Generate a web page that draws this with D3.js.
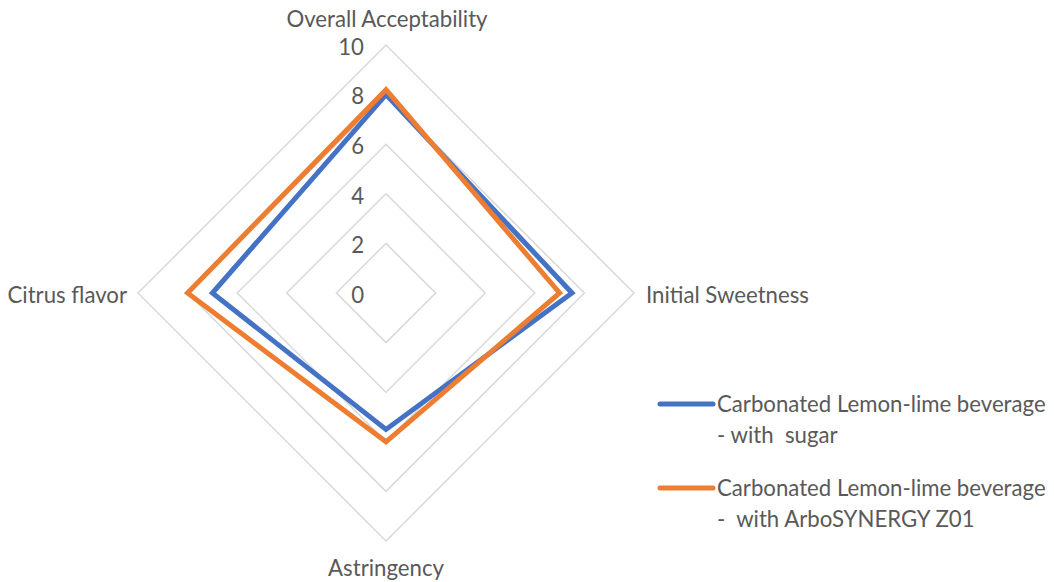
<!DOCTYPE html>
<html><head><meta charset="utf-8">
<script src="https://cdn.jsdelivr.net/npm/d3@7"></script>
<style>body{margin:0;background:#fff}svg{display:block}text{white-space:pre}</style>
</head><body>
<svg id="c" width="1054" height="582"></svg>
<script>
const axes = ["Overall Acceptability", "Initial Sweetness", "Astringency", "Citrus flavor"];
const seriesNames = [["Carbonated Lemon-lime beverage", "- with  sugar"], ["Carbonated Lemon-lime beverage", "-  with ArboSYNERGY Z01"]];
const sugar = [8.0, 7.5, 5.5, 7.0];
const arbo = [8.2, 7.0, 6.0, 8.0];
const ticks = [0, 2, 4, 6, 8, 10];
const colors = ["#4472C4", "#ED7D31"];

const svg = d3.select("#c");
const cx = 386, cy = 293, R = 248;
const font = "Lato, 'Open Sans', sans-serif";
const fs = 22.2;
const r = d3.scaleLinear().domain([0, 10]).range([0, R]);
const ang = d3.scalePoint().domain(axes).range([0, 2 * Math.PI * 3 / 4]);
const pt = (a, v) => [cx + r(v) * Math.sin(ang(a)), cy - r(v) * Math.cos(ang(a))];

const g = svg.append("g");
ticks.filter(t => t > 0).forEach(t => {
  g.append("path")
    .attr("d", d3.line()(axes.map(a => pt(a, t))) + "Z")
    .attr("fill", "none").attr("stroke", "#D9D9D9").attr("stroke-width", 1.5);
});
g.selectAll("text.tick").data(ticks).join("text")
  .attr("x", cx - 22).attr("y", d => cy + 2 - r(d))
  .attr("dy", "0.35em").attr("text-anchor", "end")
  .attr("font-family", font).attr("font-size", fs).attr("fill", "#595959")
  .text(d => d);

[sugar, arbo].forEach((vals, i) => {
  g.append("path")
    .attr("d", d3.line()(axes.map((a, k) => pt(a, vals[k]))) + "Z")
    .attr("fill", "none").attr("stroke", colors[i]).attr("stroke-width", 5)
    .attr("stroke-linejoin", "miter");
});

const lab = [
  {x: cx + 1, y: 19, a: "middle"},
  {x: 646, y: cy + 2, a: "start"},
  {x: cx, y: 568, a: "middle"},
  {x: 127, y: cy + 2, a: "end"}
];
axes.forEach((a, k) => {
  g.append("text").attr("x", lab[k].x).attr("y", lab[k].y).attr("dy", "0.35em")
    .attr("text-anchor", lab[k].a)
    .attr("font-family", font).attr("font-size", fs).attr("fill", "#595959").text(a);
});

const ly = [404, 488];
seriesNames.forEach((nm, i) => {
  g.append("line").attr("x1", 660).attr("x2", 713).attr("y1", ly[i]).attr("y2", ly[i])
    .attr("stroke", colors[i]).attr("stroke-width", 5).attr("stroke-linecap", "round");
  nm.forEach((t, j) => {
    g.append("text").attr("x", 717).attr("y", ly[i] + j * 31).attr("dy", "0.35em")
      .attr("font-family", font).attr("font-size", fs).attr("fill", "#595959").text(t);
  });
});
</script>
</body></html>
